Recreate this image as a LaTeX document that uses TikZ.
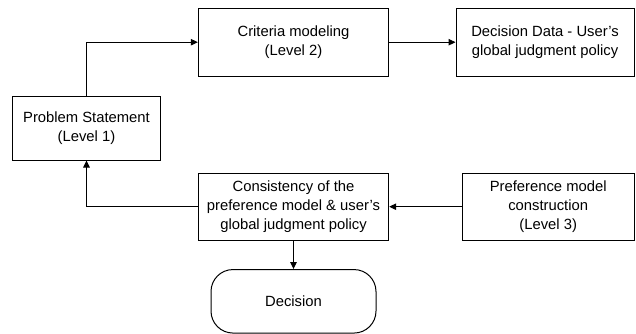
\documentclass[tikz,border=0pt]{standalone}
\usepackage{fontspec}
\setmainfont{Liberation Sans}
\usetikzlibrary{arrows.meta}
\begin{document}
\begin{tikzpicture}[x=1pt,y=-1pt,
  box/.style={draw,line width=1pt,rectangle,align=center,inner sep=0pt,
    font=\fontsize{14.8}{18.7}\selectfont},
  conn/.style={line width=1pt,-{Triangle[length=7pt,width=6.5pt]}}]
\useasboundingbox (0,0) rectangle (636,334);
\node[box,minimum width=148pt,minimum height=63pt] (ps) at (86.5,128.5) {Problem Statement\\(Level 1)};
\node[box,minimum width=190.4pt,minimum height=67.7pt] (crit) at (293.5,42.2) {Criteria modeling\\(Level 2)};
\node[box,minimum width=178pt,minimum height=67.7pt] (dd) at (545,42.2) {Decision Data - User's\\global judgment policy};
\node[box,minimum width=190.4pt,minimum height=66.7pt] (cons) at (293.5,206.7) {Consistency of the\\preference model \& user's\\global judgment policy};
\node[box,minimum width=171.7pt,minimum height=66.7pt] (pref) at (548.2,206.7) {Preference model\\construction\\(Level 3)};
\node[box,rounded corners=22pt,minimum width=165pt,minimum height=63.5pt] (dec) at (293.5,301.3) {Decision};
\draw[conn] (ps.north) |- (crit.west);
\draw[conn] (crit.east) -- (dd.west);
\draw[conn] (pref.west) -- (cons.east);
\draw[conn] (cons.west) -| (ps.south);
\draw[conn] (cons.south) -- (dec.north);
\end{tikzpicture}
\end{document}
